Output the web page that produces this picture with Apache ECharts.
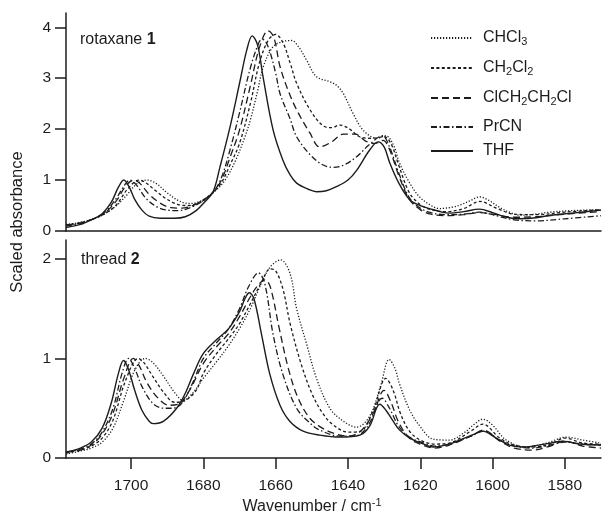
<!DOCTYPE html>
<html>
<head>
<meta charset="utf-8">
<script src="https://cdn.jsdelivr.net/npm/echarts@6/dist/echarts.min.js"></script>
<style>
  html, body { margin: 0; padding: 0; background: #fff; }
  #chart { width: 602px; height: 515px; }
</style>
</head>
<body>
<div id="chart"></div>
<script>
// IR carbonyl region, scaled absorbance vs wavenumber (cm-1), five solvents.
const solvents = ['CHCl3', 'CH2Cl2', 'ClCH2CH2Cl', 'PrCN', 'THF'];

const xTicks = [1700, 1680, 1660, 1640, 1620, 1600, 1580];
const yTicksTop = [0, 1, 2, 3, 4];
const yTicksBottom = [0, 1, 2];

// rotaxane 1: [wavenumber, scaled absorbance]
const rotCHCl3 = [[1718,0.13],[1714,0.17],[1710,0.25],[1707,0.35],[1704,0.5],[1701,0.72],[1698.5,0.92],[1695.5,1.0],[1693,0.93],[1690,0.75],[1687,0.6],[1684,0.54],[1681,0.58],[1677.3,0.75],[1674,1.0],[1671,1.4],[1668.5,1.85],[1667,2.18],[1665,2.75],[1663.4,3.23],[1660.7,3.62],[1658,3.72],[1655.6,3.74],[1653.5,3.6],[1651.5,3.36],[1648.7,3.03],[1645,2.93],[1643,2.85],[1641.3,2.7],[1638.6,2.31],[1635.8,1.98],[1632.1,1.82],[1629.5,1.87],[1627.5,1.7],[1625.7,1.33],[1623,0.95],[1620.2,0.67],[1617,0.5],[1614.7,0.44],[1611,0.47],[1609,0.51],[1606,0.6],[1603.6,0.67],[1601,0.6],[1598,0.46],[1595,0.36],[1592.6,0.31],[1588,0.33],[1584.2,0.37],[1578,0.4],[1570,0.42]];
const rotCH2Cl2 = [[1718,0.12],[1714,0.16],[1710,0.25],[1707,0.35],[1704,0.52],[1701,0.82],[1697.8,1.0],[1696,0.95],[1693,0.78],[1690,0.62],[1687,0.52],[1684,0.5],[1681,0.57],[1677.3,0.76],[1675,0.95],[1672.6,1.3],[1670,1.72],[1667,2.5],[1664.5,3.3],[1662,3.75],[1660,3.86],[1658,3.7],[1656,3.3],[1654.2,2.9],[1650.5,2.38],[1647,2.07],[1644.5,2.03],[1642.3,2.08],[1639.5,2.0],[1636.8,1.85],[1633.5,1.82],[1630,1.85],[1628,1.7],[1626,1.3],[1623,0.75],[1620,0.52],[1617,0.42],[1613,0.38],[1608,0.44],[1603.5,0.58],[1599,0.45],[1594,0.33],[1588,0.32],[1580,0.37],[1570,0.42]];
const rotDCE = [[1718,0.12],[1714,0.16],[1710,0.25],[1707,0.37],[1704,0.6],[1701.5,0.88],[1699.3,1.0],[1697.5,0.93],[1695,0.72],[1692,0.55],[1689,0.46],[1686,0.45],[1683,0.5],[1680,0.6],[1677.3,0.76],[1675,1.0],[1672.6,1.45],[1670,1.98],[1667,2.85],[1664.5,3.6],[1662.1,3.93],[1660.5,3.8],[1658.8,3.23],[1656.5,2.75],[1654.2,2.38],[1650.5,1.92],[1647.8,1.65],[1644.5,1.75],[1641.3,1.9],[1638,1.9],[1635,1.76],[1632.5,1.72],[1630.3,1.78],[1628.5,1.6],[1626,1.1],[1623,0.62],[1620,0.42],[1617,0.33],[1613,0.3],[1608,0.32],[1603.5,0.36],[1599,0.32],[1594,0.27],[1588,0.28],[1580,0.33],[1570,0.38]];
const rotPrCN = [[1718,0.1],[1714,0.15],[1710,0.25],[1707,0.38],[1704,0.65],[1702,0.88],[1700.3,1.0],[1698.5,0.9],[1696,0.65],[1693,0.48],[1690,0.41],[1687,0.4],[1684,0.45],[1681,0.55],[1677.3,0.76],[1675,1.05],[1672.6,1.6],[1670,2.32],[1667,3.2],[1664.5,3.72],[1663.5,3.76],[1662,3.6],[1660,3.1],[1658.8,2.7],[1656,2.2],[1654.2,1.85],[1650.5,1.5],[1647,1.3],[1644,1.25],[1641,1.3],[1637.6,1.46],[1634,1.7],[1630.5,1.87],[1628.5,1.65],[1626,1.15],[1623,0.65],[1620,0.45],[1617,0.36],[1613,0.32],[1608,0.33],[1603.5,0.37],[1599,0.3],[1594,0.22],[1588,0.2],[1580,0.24],[1570,0.3]];
const rotTHF = [[1718,0.07],[1714,0.13],[1711,0.22],[1708,0.34],[1705.5,0.56],[1703.5,0.86],[1702,1.0],[1700.5,0.86],[1699,0.62],[1697,0.41],[1695,0.29],[1692,0.25],[1688,0.25],[1685,0.28],[1682,0.4],[1679.5,0.58],[1677.3,0.77],[1675.4,1.26],[1672.6,2.05],[1669.9,2.93],[1668,3.55],[1666.5,3.83],[1665,3.65],[1663.5,3.03],[1660.7,1.98],[1658,1.39],[1656,1.1],[1654.2,0.94],[1651,0.82],[1648.7,0.77],[1646,0.79],[1643.2,0.87],[1640,1.0],[1637.6,1.19],[1634,1.59],[1631.7,1.75],[1630,1.65],[1628.4,1.33],[1626,0.95],[1623,0.62],[1620,0.5],[1617.4,0.44],[1614,0.37],[1611.9,0.35],[1608,0.38],[1603.6,0.43],[1600,0.36],[1596,0.27],[1592.6,0.24],[1588,0.26],[1584,0.31],[1578,0.35],[1570,0.41]];

// thread 2
const thrCHCl3 = [[1718,0.04],[1714,0.07],[1711,0.1],[1708,0.16],[1705,0.3],[1702,0.58],[1699,0.88],[1696.1,1.0],[1694,0.96],[1691,0.82],[1688,0.66],[1685.6,0.58],[1683,0.65],[1680,0.8],[1676.3,0.97],[1673,1.13],[1670,1.3],[1667,1.5],[1664,1.75],[1661.5,1.92],[1658.6,1.99],[1656,1.85],[1654.2,1.5],[1651.4,1.14],[1648.7,0.8],[1645,0.5],[1641.3,0.37],[1637.6,0.31],[1634,0.42],[1631,0.72],[1628.6,0.99],[1627,0.9],[1625.7,0.74],[1622.9,0.48],[1620.1,0.32],[1616.5,0.19],[1612,0.18],[1608,0.25],[1605,0.34],[1602.7,0.39],[1600,0.33],[1596.2,0.18],[1590.7,0.11],[1585,0.15],[1579.6,0.21],[1575,0.18],[1570,0.15]];
const thrCH2Cl2 = [[1718,0.05],[1714,0.08],[1711,0.12],[1708,0.2],[1705,0.38],[1701.5,0.78],[1698,1.0],[1696.5,0.96],[1694,0.82],[1691,0.66],[1688,0.56],[1685.5,0.57],[1682,0.68],[1680,0.85],[1676.3,1.05],[1673,1.2],[1670,1.35],[1667,1.55],[1664,1.76],[1661.5,1.9],[1660,1.88],[1658,1.7],[1656,1.35],[1653,0.95],[1650,0.65],[1647,0.45],[1644,0.33],[1640,0.26],[1636.5,0.27],[1633,0.48],[1629.5,0.8],[1627.5,0.68],[1625.5,0.45],[1623,0.27],[1620,0.18],[1616,0.14],[1612,0.15],[1606,0.27],[1602.7,0.34],[1598,0.2],[1594,0.13],[1589,0.11],[1584,0.14],[1580,0.2],[1575,0.15],[1570,0.14]];
const thrDCE = [[1718,0.06],[1714,0.08],[1711,0.13],[1708,0.24],[1705,0.45],[1702,0.8],[1699.4,1.0],[1697.8,0.93],[1695.5,0.75],[1692.5,0.6],[1689.5,0.53],[1687,0.54],[1684,0.67],[1680,0.95],[1676.3,1.12],[1673,1.25],[1670,1.42],[1667,1.62],[1665,1.73],[1663,1.79],[1661.5,1.72],[1659,1.3],[1656.5,0.9],[1654,0.62],[1651,0.42],[1648,0.32],[1644,0.25],[1640,0.22],[1636.5,0.27],[1633,0.45],[1630,0.68],[1628,0.55],[1626,0.36],[1623,0.2],[1620,0.14],[1616,0.1],[1612,0.13],[1606,0.22],[1602.5,0.28],[1598,0.17],[1594,0.1],[1589,0.08],[1584,0.12],[1580,0.17],[1575,0.12],[1570,0.1]];
const thrPrCN = [[1718,0.06],[1714,0.09],[1711,0.14],[1708,0.26],[1705,0.5],[1702.5,0.85],[1700.7,1.0],[1699,0.9],[1697,0.72],[1694,0.55],[1691,0.5],[1688.5,0.5],[1686,0.55],[1683,0.75],[1680,1.0],[1676.3,1.16],[1673,1.3],[1670,1.5],[1667.5,1.72],[1664.8,1.86],[1663,1.75],[1660.7,1.24],[1658,0.84],[1654.2,0.5],[1650.5,0.35],[1647.8,0.28],[1642,0.22],[1638,0.22],[1634.5,0.32],[1630.5,0.6],[1628.5,0.5],[1626,0.32],[1623,0.21],[1619,0.15],[1616,0.12],[1612,0.14],[1606,0.22],[1602.5,0.27],[1598,0.18],[1594,0.12],[1589,0.1],[1584,0.13],[1580,0.16],[1575,0.14],[1570,0.13]];
const thrTHF = [[1718,0.06],[1714,0.1],[1711,0.16],[1708,0.3],[1705.5,0.55],[1703.5,0.85],[1702.1,0.98],[1700.8,0.9],[1699,0.68],[1697,0.48],[1695,0.37],[1693.8,0.345],[1691,0.37],[1687.4,0.5],[1685,0.65],[1682.8,0.84],[1680,1.05],[1676.3,1.19],[1673,1.3],[1670,1.47],[1668.5,1.6],[1667.3,1.66],[1666,1.6],[1663.9,1.24],[1661.6,0.84],[1658.8,0.53],[1656.1,0.37],[1652.4,0.27],[1647.8,0.23],[1642.2,0.21],[1636.7,0.23],[1634,0.32],[1631.2,0.54],[1629.5,0.48],[1627.5,0.37],[1625.7,0.28],[1622.9,0.2],[1619,0.14],[1616.5,0.11],[1612,0.14],[1609.1,0.18],[1605,0.24],[1602.7,0.27],[1599,0.2],[1595.3,0.13],[1591,0.11],[1588.8,0.12],[1584,0.15],[1580.5,0.17],[1576,0.14],[1570,0.13]];

const rotaxaneSets = [rotCHCl3, rotCH2Cl2, rotDCE, rotPrCN, rotTHF];
const threadSets = [thrCHCl3, thrCH2Cl2, thrDCE, thrPrCN, thrTHF];

const ink = '#1c1c1c';
const dashStyles = [[1.2, 1.8], [3, 2.4], [7, 4], [6, 2.5, 1.5, 2.5], 'solid'];
const legendRows = [30, 60, 90, 119, 143];

const font = 'Liberation Sans, Arial, sans-serif';
const richSub = { sub: { fontSize: 11, fontFamily: font, color: ink, padding: [8, 0, 0, 0] } };
const subscript = name => name.replace(/(\d)/g, '{sub|$1}');

function makeXAxis(gridIndex, showTicks) {
  return {
    type: 'value', gridIndex, inverse: true, min: 1570, max: 1718,
    axisLine: { show: true, onZero: false, lineStyle: { color: ink, width: 1.5 } },
    axisTick: { show: showTicks, customValues: xTicks, length: 11, lineStyle: { color: ink, width: 1.5 } },
    axisLabel: { show: showTicks, customValues: xTicks, margin: 20, color: ink, fontSize: 15.5, fontFamily: font, formatter: v => String(v) },
    splitLine: { show: false }
  };
}
function makeYAxis(gridIndex, max, ticks) {
  return {
    type: 'value', gridIndex, min: 0, max,
    axisLine: { show: true, lineStyle: { color: ink, width: 1.5 } },
    axisTick: { show: true, customValues: ticks, length: 11, lineStyle: { color: ink, width: 1.5 } },
    axisLabel: { customValues: ticks, margin: 15, color: ink, fontSize: 15.5, fontFamily: font, formatter: v => String(v) },
    splitLine: { show: false }
  };
}

const series = [];
[rotaxaneSets, threadSets].forEach((sets, panel) => {
  sets.forEach((data, i) => {
    series.push({
      name: solvents[i], type: 'line', xAxisIndex: panel, yAxisIndex: panel,
      data, smooth: 0.35, symbol: 'none', showSymbol: false, animation: false,
      lineStyle: { color: ink, width: i === 4 ? 1.4 : 1.3, type: dashStyles[i], cap: 'butt' },
      itemStyle: { color: ink }
    });
  });
});

const legends = solvents.map((name, i) => ({
  data: [name], left: 430, top: legendRows[i], orient: 'vertical', padding: 0,
  itemWidth: 42, itemHeight: 14, selectedMode: false,
  itemStyle: { opacity: 0 },
  formatter: subscript,
  textStyle: { color: ink, fontSize: 16, fontFamily: font, padding: [0, 0, 0, 5], rich: richSub }
}));

const chart = echarts.init(document.getElementById('chart'), null, { renderer: 'canvas' });
chart.setOption({
  backgroundColor: '#fff',
  animation: false,
  grid: [
    { left: 66, right: 1, top: 13, height: 218 },
    { left: 66, right: 1, top: 240, height: 218 }
  ],
  xAxis: [makeXAxis(0, false), makeXAxis(1, true)],
  yAxis: [makeYAxis(0, 4.28, yTicksTop), makeYAxis(1, 2.19, yTicksBottom)],
  legend: legends,
  series,
  graphic: [
    { type: 'text', left: 80, top: 32, style: { text: 'rotaxane {b|1}', fill: ink, font: '16px ' + font, rich: { b: { fontWeight: 'bold', fontSize: 16, fontFamily: font, fill: ink } } } },
    { type: 'text', left: 81, top: 252, style: { text: 'thread {b|2}', fill: ink, font: '16px ' + font, rich: { b: { fontWeight: 'bold', fontSize: 16, fontFamily: font, fill: ink } } } },
    { type: 'text', x: 17, y: 222, rotation: Math.PI / 2, style: { text: 'Scaled absorbance', fill: ink, font: '16.5px ' + font, align: 'center', verticalAlign: 'middle' } },
    { type: 'text', x: 312, y: 507, style: { text: 'Wavenumber / cm{sup|-1}', fill: ink, font: '16px ' + font, align: 'center', verticalAlign: 'middle', rich: { sup: { fontSize: 11, fontFamily: font, fill: ink, padding: [0, 0, 9, 0] } } } }
  ]
});
</script>
</body>
</html>
